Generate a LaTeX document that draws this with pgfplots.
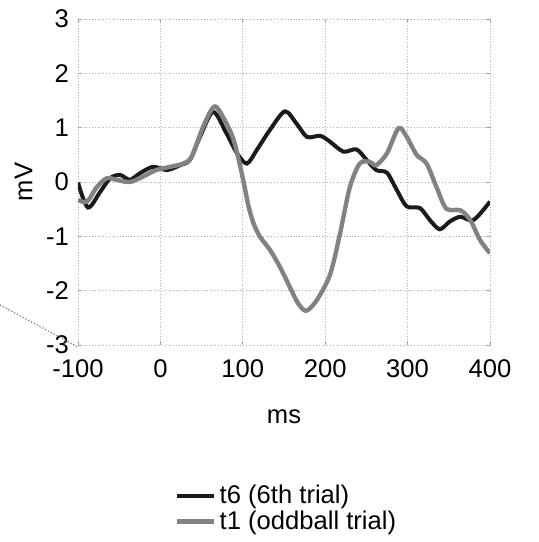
\documentclass[border=0pt]{standalone}
\usepackage{fontspec}
\setmainfont{Liberation Sans}
\usepackage{pgfplots}
\pgfplotsset{compat=1.18}
\definecolor{tsix}{HTML}{1E1A1A}
\definecolor{tone}{HTML}{828282}

% t6: 6th trial
\pgfplotstableread{
x y
-100 -0.01
-88 -0.47
-73 -0.18
-61 0.07
-49 0.13
-37 0.04
-25 0.16
-9 0.28
8 0.22
24 0.31
36 0.41
48 0.83
64 1.29
80 0.90
93 0.53
105 0.34
117 0.59
133 0.96
151 1.30
165 1.08
178 0.83
194 0.85
206 0.74
222 0.56
238 0.60
250 0.41
262 0.22
275 0.17
287 -0.15
299 -0.45
315 -0.48
327 -0.70
339 -0.87
351 -0.73
364 -0.64
380 -0.70
400 -0.36
}\tsix

% t1: oddball trial
\pgfplotstableread{
x y
-100 -0.33
-89 -0.36
-77 -0.09
-65 0.07
-53 0.04
-37 0.00
-21 0.10
-5 0.22
12 0.28
28 0.34
38 0.47
52 1.02
66 1.39
80 1.08
89 0.77
97 0.28
103 -0.15
107 -0.45
113 -0.76
121 -1.01
133 -1.25
145 -1.56
157 -1.93
167 -2.23
177 -2.37
190 -2.17
206 -1.70
218 -0.95
230 -0.09
242 0.34
254 0.37
262 0.31
275 0.53
289 0.99
299 0.83
311 0.50
323 0.34
335 -0.09
347 -0.49
364 -0.52
376 -0.70
388 -1.07
400 -1.31
}\tone

\begin{document}
\begin{tikzpicture}
\useasboundingbox (-39pt,-98.5pt) rectangle (230pt,172.5pt);
\begin{axis}[
  at={(0,0)}, anchor=south west,
  scale only axis,
  width=206pt, height=163pt,
  xmin=-100, xmax=400,
  ymin=-3, ymax=3,
  xtick={-100,0,...,400},
  ytick={-3,-2,...,3},
  axis line style={draw=none},
  tick style={gray!70, thin},
  tick align=inside,
  major tick length=2pt,
  grid=major,
  grid style={gray!60, densely dotted, line width=0.4pt},
  font=\fontsize{12.8}{14}\selectfont,
  /pgf/number format/assume math mode=true,
  xticklabel style={yshift=-4pt},
  yticklabel style={xshift=-1pt},
  xlabel={ms},
  ylabel={mV},
  xlabel style={yshift=-9pt},
  ylabel style={yshift=0pt},
  legend style={at={(rel axis cs:0.228,-0.41)}, anchor=north west,
    draw=none, fill=none, font=\fontsize{12.8}{13}\selectfont,
    row sep=-2pt, inner sep=1pt},
  legend cell align=left,
  legend image code/.code={\draw[#1] (0pt,0pt) -- (18.5pt,0pt);},
]
\addplot[tsix, line width=2pt, smooth, tension=0.5] table {\tsix};
\addlegendentry{t6 (6th trial)}
\addplot[tone, line width=2.2pt, smooth, tension=0.5] table {\tone};
\addlegendentry{t1 (oddball trial)}
\end{axis}
\draw[gray!90!black, densely dotted, line width=0.6pt] (-39pt,20pt) -- (0pt,-1pt);
\end{tikzpicture}
\end{document}
